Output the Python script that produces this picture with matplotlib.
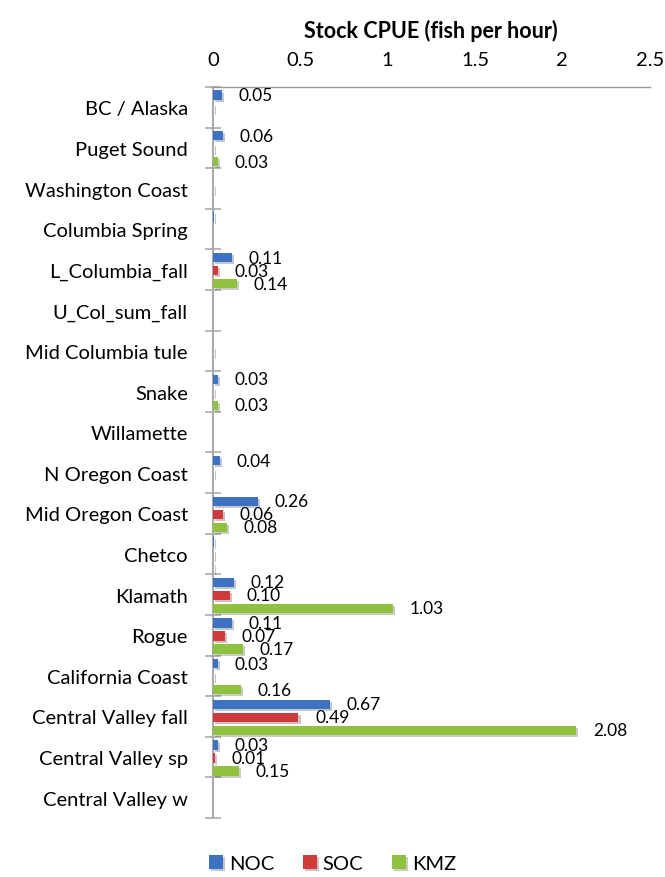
import matplotlib
matplotlib.use('Agg')
import matplotlib.pyplot as plt
import matplotlib.patheffects as pe
import numpy as np

plt.rcParams['font.family'] = ['Lato', 'DejaVu Sans']

stocks = ['BC / Alaska', 'Puget Sound', 'Washington Coast', 'Columbia Spring',
          'L_Columbia_fall', 'U_Col_sum_fall', 'Mid Columbia tule', 'Snake',
          'Willamette', 'N Oregon Coast', 'Mid Oregon Coast', 'Chetco',
          'Klamath', 'Rogue', 'California Coast', 'Central Valley fall',
          'Central Valley sp', 'Central Valley w']
noc = [0.05, 0.06, 0.003, 0.006, 0.11, 0.0, 0.003, 0.03, 0.0, 0.04,
       0.26, 0.005, 0.12, 0.11, 0.03, 0.67, 0.03, 0.0]
soc = [0.004, 0.004, 0.004, 0.0, 0.03, 0.0, 0.004, 0.004, 0.0, 0.004,
       0.06, 0.004, 0.10, 0.07, 0.004, 0.49, 0.01, 0.0]
kmz = [0.0, 0.03, 0.0, 0.0, 0.14, 0.0, 0.0, 0.03, 0.0, 0.0,
       0.08, 0.004, 1.03, 0.17, 0.16, 2.08, 0.15, 0.0]
series = [('NOC', noc, '#3D72C2'), ('SOC', soc, '#CF3B3B'), ('KMZ', kmz, '#90C13F')]

fig = plt.figure(figsize=(6.65, 8.78), dpi=100)
ax = fig.add_axes([0.320, 0.0672, 0.657, 0.8326])

y = np.arange(len(stocks))
offsets = [-0.30, 0.02, 0.34]
shadow = [pe.SimplePatchShadow(offset=(1.5, -1.5), alpha=0.25), pe.Normal()]
for (name, vals, col), off in zip(series, offsets):
    bars = ax.barh(y + off, vals, height=0.23, color=col, label=name, zorder=3)
    for b in bars:
        b.set_path_effects(shadow)
    for yi, v in zip(y, vals):
        if v >= 0.01:
            ax.annotate(f'{v:.2f}', (v, yi + off), xytext=(12, 0),
                        textcoords='offset points', va='center', ha='left',
                        fontsize=12.5)

ax.set_xlim(0, 2.5)
ax.set_ylim(len(stocks) - 0.5, -0.5)
ax.xaxis.tick_top()
ax.xaxis.set_label_position('top')
ax.set_xticks([0, 0.5, 1, 1.5, 2, 2.5])
ax.set_xticklabels(['0', '0.5', '1', '1.5', '2', '2.5'])
ax.tick_params(axis='x', length=0, pad=14, labelsize=14.5)
ax.set_xlabel('Stock CPUE (fish per hour)', fontsize=15.5, fontweight='bold', labelpad=10)

ax.set_yticks(y)
ax.set_yticklabels(stocks, fontsize=14.5)
ax.set_yticks(np.arange(-0.5, len(stocks)), minor=True)
ax.tick_params(axis='y', which='major', length=0, pad=18)
ax.tick_params(axis='y', which='minor', direction='inout', length=11, width=1.2, color='#aaaaaa')

for s in ['right', 'bottom']:
    ax.spines[s].set_visible(False)
ax.spines['left'].set_color('#aaaaaa')
ax.spines['left'].set_linewidth(1.5)
ax.spines['top'].set_color('#999999')
ax.spines['top'].set_linewidth(1.0)

fig.legend(loc='lower center', bbox_to_anchor=(0.5, -0.015), ncol=3, frameon=False,
           handlelength=0.7, handleheight=0.7, handletextpad=0.3, columnspacing=1.4,
           fontsize=14.5)

fig.savefig('out.png', dpi=100)
